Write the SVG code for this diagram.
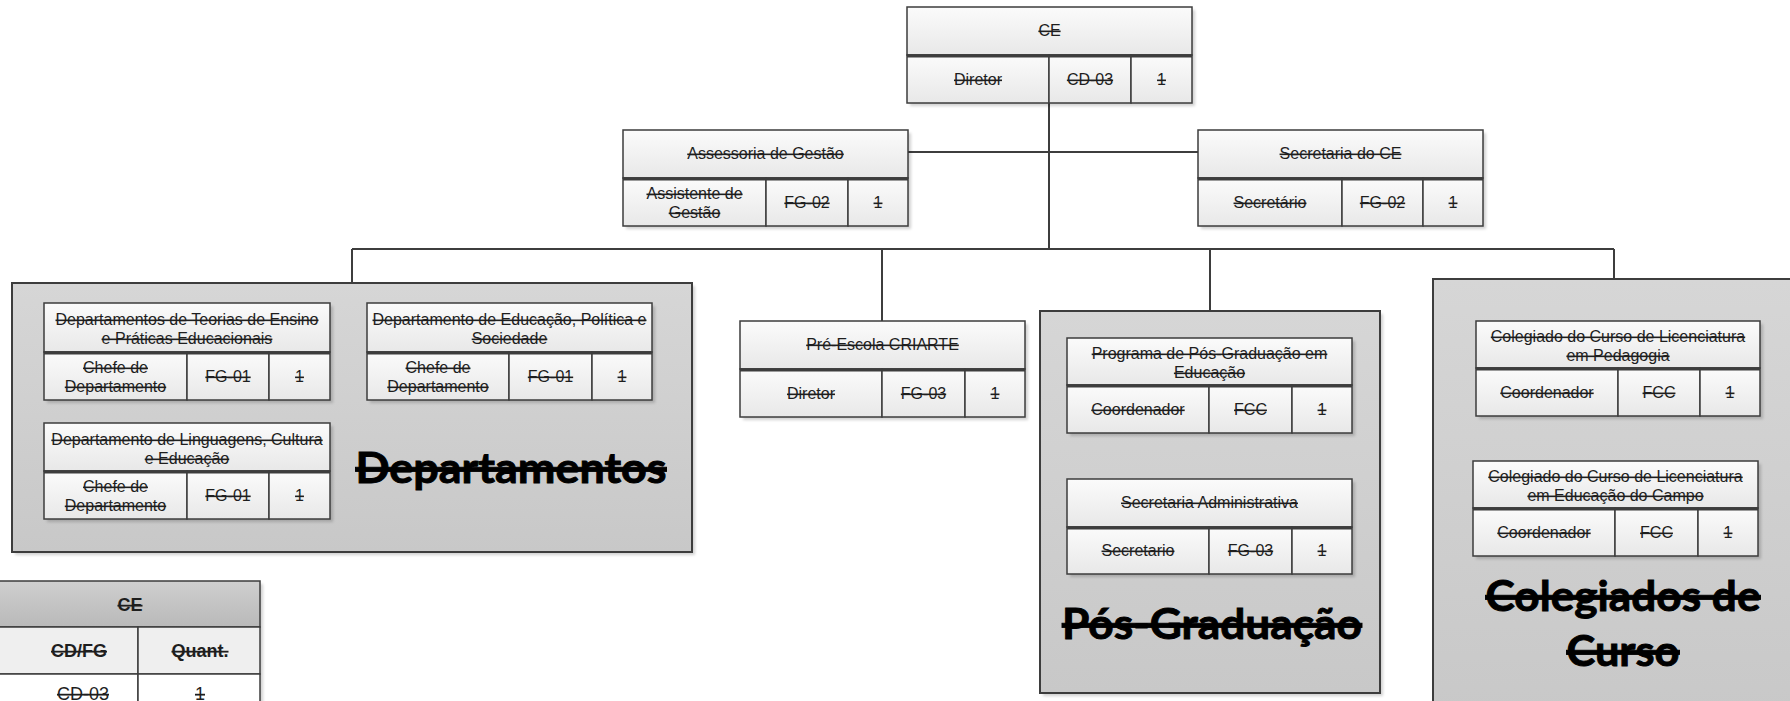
<svg xmlns="http://www.w3.org/2000/svg" width="1790" height="701" viewBox="0 0 1790 701">
<defs>
<linearGradient id="gCell" x1="0" y1="0" x2="0" y2="1"><stop offset="0" stop-color="#fbfbfb"/><stop offset="1" stop-color="#e8e8e8"/></linearGradient>
<linearGradient id="gCont" x1="0" y1="0" x2="0" y2="1"><stop offset="0" stop-color="#d6d6d6"/><stop offset="1" stop-color="#c8c8c8"/></linearGradient>
<linearGradient id="gTh" x1="0" y1="0" x2="0" y2="1"><stop offset="0" stop-color="#cfcfcf"/><stop offset="1" stop-color="#b9b9b9"/></linearGradient>
<filter id="blur" x="-10%" y="-10%" width="120%" height="120%"><feGaussianBlur stdDeviation="1.6"/></filter>
</defs>
<style>
.cell{fill:url(#gCell);stroke:#3d3d3d;stroke-width:1.5}
.sep{stroke:#3d3d3d;stroke-width:3}
.sh{fill:#000;opacity:0.18;filter:url(#blur)}
.cont{fill:url(#gCont);stroke:#3d3d3d;stroke-width:2}
.t{font-family:"Liberation Sans",Arial,sans-serif;font-size:16px;fill:#1e1e1e;text-anchor:middle;text-decoration:line-through}
.big{font-family:Lato,"Open Sans",sans-serif;font-weight:700;font-size:42px;fill:#000;stroke:#000;stroke-width:0.9;text-anchor:middle;text-decoration:line-through}
.conn{stroke:#3d3d3d;stroke-width:2;fill:none}
.tb{font-family:"Liberation Sans",Arial,sans-serif;font-size:18px;fill:#1e1e1e;text-anchor:middle;text-decoration:line-through}
</style>
<rect width="1790" height="701" fill="#fff"/>

<g id="connectors">
<path class="conn" d="M1049 103V249M908 152H1198M352 249H1614M352 249V283M882 249V321M1210 249V311M1614 249V279"/>
</g>

<g id="grp-departamentos">
<rect class="sh" x="15" y="286" width="680" height="269"/>
<rect class="cont" x="12" y="283" width="680" height="269"/>
<text class="big" x="511" y="483" textLength="311" lengthAdjust="spacingAndGlyphs">Departamentos</text>
</g>
<g id="grp-posgrad">
<rect class="sh" x="1043" y="314" width="340" height="382"/>
<rect class="cont" x="1040" y="311" width="340" height="382"/>
<text class="big" x="1212" y="639" textLength="300" lengthAdjust="spacingAndGlyphs">Pós-Graduação</text>
</g>
<g id="grp-colegiados">
<rect class="sh" x="1436" y="282" width="370" height="440"/>
<rect class="cont" x="1433" y="279" width="370" height="440"/>
<text class="big" x="1623" y="611" textLength="275" lengthAdjust="spacingAndGlyphs">Colegiados de</text>
<text class="big" x="1623" y="666" textLength="113" lengthAdjust="spacingAndGlyphs">Curso</text>
</g>

<g id="node-ce" transform="translate(907 7)">
<rect class="sh" x="3" y="3" width="285" height="96"/>
<rect class="cell" width="285" height="48"/>
<rect class="cell" y="48" width="142" height="48"/><rect class="cell" x="142" y="48" width="82" height="48"/><rect class="cell" x="224" y="48" width="61" height="48"/>
<line class="sep" x1="0" y1="49" x2="285" y2="49"/>
<text class="t" x="142.5" y="29">CE</text>
<text class="t" x="71" y="78">Diretor</text><text class="t" x="183" y="78">CD-03</text><text class="t" x="254.5" y="78">1</text>
</g>

<g id="node-assessoria" transform="translate(623 130)">
<rect class="sh" x="3" y="3" width="285" height="96"/>
<rect class="cell" width="285" height="48"/>
<rect class="cell" y="48" width="143" height="48"/><rect class="cell" x="143" y="48" width="82" height="48"/><rect class="cell" x="225" y="48" width="60" height="48"/>
<line class="sep" x1="0" y1="49" x2="285" y2="49"/>
<text class="t" x="142.5" y="29">Assessoria de Gestão</text>
<text class="t" x="71.5" y="69">Assistente de</text><text class="t" x="71.5" y="88">Gestão</text>
<text class="t" x="184" y="78">FG-02</text><text class="t" x="255" y="78">1</text>
</g>

<g id="node-secretaria-ce" transform="translate(1198 130)">
<rect class="sh" x="3" y="3" width="285" height="96"/>
<rect class="cell" width="285" height="48"/>
<rect class="cell" y="48" width="144" height="48"/><rect class="cell" x="144" y="48" width="81" height="48"/><rect class="cell" x="225" y="48" width="60" height="48"/>
<line class="sep" x1="0" y1="49" x2="285" y2="49"/>
<text class="t" x="142.5" y="29">Secretaria do CE</text>
<text class="t" x="72" y="78">Secretário</text><text class="t" x="184.5" y="78">FG-02</text><text class="t" x="255" y="78">1</text>
</g>

<g id="node-dep-teorias" transform="translate(44 303)">
<rect class="sh" x="3" y="3" width="286" height="97"/>
<rect class="cell" width="286" height="49"/>
<rect class="cell" y="49" width="143" height="48"/><rect class="cell" x="143" y="49" width="82" height="48"/><rect class="cell" x="225" y="49" width="61" height="48"/>
<line class="sep" x1="0" y1="50" x2="286" y2="50"/>
<text class="t" x="143" y="22">Departamentos de Teorias de Ensino</text><text class="t" x="143" y="41">e Práticas Educacionais</text>
<text class="t" x="71.5" y="70">Chefe de</text><text class="t" x="71.5" y="89">Departamento</text>
<text class="t" x="184" y="79">FG-01</text><text class="t" x="255.5" y="79">1</text>
</g>

<g id="node-dep-educacao" transform="translate(367 303)">
<rect class="sh" x="3" y="3" width="285" height="97"/>
<rect class="cell" width="285" height="49"/>
<rect class="cell" y="49" width="142" height="48"/><rect class="cell" x="142" y="49" width="83" height="48"/><rect class="cell" x="225" y="49" width="60" height="48"/>
<line class="sep" x1="0" y1="50" x2="285" y2="50"/>
<text class="t" x="142.5" y="22">Departamento de Educação, Política e</text><text class="t" x="142.5" y="41">Sociedade</text>
<text class="t" x="71" y="70">Chefe de</text><text class="t" x="71" y="89">Departamento</text>
<text class="t" x="183.5" y="79">FG-01</text><text class="t" x="255" y="79">1</text>
</g>

<g id="node-dep-linguagens" transform="translate(44 423)">
<rect class="sh" x="3" y="3" width="286" height="96"/>
<rect class="cell" width="286" height="48"/>
<rect class="cell" y="48" width="143" height="48"/><rect class="cell" x="143" y="48" width="82" height="48"/><rect class="cell" x="225" y="48" width="61" height="48"/>
<line class="sep" x1="0" y1="49" x2="286" y2="49"/>
<text class="t" x="143" y="22">Departamento de Linguagens, Cultura</text><text class="t" x="143" y="41">e Educação</text>
<text class="t" x="71.5" y="69">Chefe de</text><text class="t" x="71.5" y="88">Departamento</text>
<text class="t" x="184" y="78">FG-01</text><text class="t" x="255.5" y="78">1</text>
</g>

<g id="node-pre-escola" transform="translate(740 321)">
<rect class="sh" x="3" y="3" width="285" height="96"/>
<rect class="cell" width="285" height="48"/>
<rect class="cell" y="48" width="142" height="48"/><rect class="cell" x="142" y="48" width="83" height="48"/><rect class="cell" x="225" y="48" width="60" height="48"/>
<line class="sep" x1="0" y1="49" x2="285" y2="49"/>
<text class="t" x="142.5" y="29">Pré-Escola CRIARTE</text>
<text class="t" x="71" y="78">Diretor</text><text class="t" x="183.5" y="78">FG-03</text><text class="t" x="255" y="78">1</text>
</g>

<g id="node-ppge" transform="translate(1067 338)">
<rect class="sh" x="3" y="3" width="285" height="95"/>
<rect class="cell" width="285" height="47"/>
<rect class="cell" y="47" width="142" height="48"/><rect class="cell" x="142" y="47" width="83" height="48"/><rect class="cell" x="225" y="47" width="60" height="48"/>
<line class="sep" x1="0" y1="48" x2="285" y2="48"/>
<text class="t" x="142.5" y="21">Programa de Pós-Graduação em</text><text class="t" x="142.5" y="40">Educação</text>
<text class="t" x="71" y="77">Coordenador</text><text class="t" x="183.5" y="77">FCC</text><text class="t" x="255" y="77">1</text>
</g>

<g id="node-sec-adm" transform="translate(1067 479)">
<rect class="sh" x="3" y="3" width="285" height="95"/>
<rect class="cell" width="285" height="48"/>
<rect class="cell" y="48" width="142" height="47"/><rect class="cell" x="142" y="48" width="83" height="47"/><rect class="cell" x="225" y="48" width="60" height="47"/>
<line class="sep" x1="0" y1="49" x2="285" y2="49"/>
<text class="t" x="142.5" y="29">Secretaria Administrativa</text>
<text class="t" x="71" y="77">Secretario</text><text class="t" x="183.5" y="77">FG-03</text><text class="t" x="255" y="77">1</text>
</g>

<g id="node-col-pedagogia" transform="translate(1476 321)">
<rect class="sh" x="3" y="3" width="284" height="95"/>
<rect class="cell" width="284" height="47"/>
<rect class="cell" y="47" width="142" height="48"/><rect class="cell" x="142" y="47" width="82" height="48"/><rect class="cell" x="224" y="47" width="60" height="48"/>
<line class="sep" x1="0" y1="48" x2="284" y2="48"/>
<text class="t" x="142" y="21">Colegiado do Curso de Licenciatura</text><text class="t" x="142" y="40">em Pedagogia</text>
<text class="t" x="71" y="77">Coordenador</text><text class="t" x="183" y="77">FCC</text><text class="t" x="254" y="77">1</text>
</g>

<g id="node-col-campo" transform="translate(1473 461)">
<rect class="sh" x="3" y="3" width="285" height="95"/>
<rect class="cell" width="285" height="47"/>
<rect class="cell" y="47" width="142" height="48"/><rect class="cell" x="142" y="47" width="83" height="48"/><rect class="cell" x="225" y="47" width="60" height="48"/>
<line class="sep" x1="0" y1="48" x2="285" y2="48"/>
<text class="t" x="142.5" y="21">Colegiado do Curso de Licenciatura</text><text class="t" x="142.5" y="40">em Educação do Campo</text>
<text class="t" x="71" y="77">Coordenador</text><text class="t" x="183.5" y="77">FCC</text><text class="t" x="255" y="77">1</text>
</g>

<g id="table-ce">
<rect class="sh" x="1" y="584" width="262" height="140"/>
<rect x="-2" y="581" width="262" height="46" fill="url(#gTh)" stroke="#3d3d3d" stroke-width="1.5"/>
<rect x="-2" y="627" width="140" height="47" fill="#efefef" stroke="#3d3d3d" stroke-width="1.5"/>
<rect x="138" y="627" width="122" height="47" fill="#efefef" stroke="#3d3d3d" stroke-width="1.5"/>
<rect x="-2" y="674" width="140" height="47" fill="#fff" stroke="#3d3d3d" stroke-width="1.5"/>
<rect x="138" y="674" width="122" height="47" fill="#fff" stroke="#3d3d3d" stroke-width="1.5"/>
<text class="tb" x="130" y="611" font-weight="700">CE</text>
<text class="tb" x="79" y="657" font-weight="700">CD/FG</text>
<text class="tb" x="200" y="657" font-weight="700">Quant.</text>
<text class="tb" x="83" y="700">CD-03</text>
<text class="tb" x="200" y="700">1</text>
</g>
</svg>
